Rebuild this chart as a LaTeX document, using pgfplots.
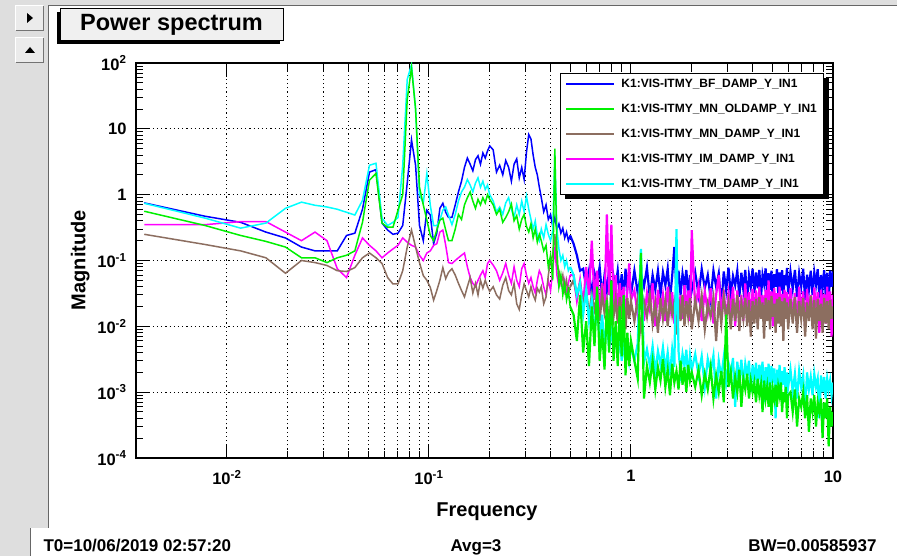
\documentclass[border=0pt]{standalone}
\usepackage{fontspec}
\setmainfont{Liberation Sans}
\usepackage{pgfplots}
\usepackage{pgfplotstable}
\pgfplotsset{compat=1.18}

\definecolor{rbrown}{RGB}{140,110,96}
\definecolor{rblue}{RGB}{0,0,255}
\definecolor{rgreen}{RGB}{0,240,0}
\definecolor{rmag}{RGB}{255,0,255}
\definecolor{rcyan}{RGB}{0,255,255}
\definecolor{panel}{RGB}{222,222,222}
\definecolor{titlefill}{RGB}{240,240,240}

% f = frequency [Hz]; b = BF, g = MN_OLDAMP, n = MN, m = IM, c = TM
\pgfplotstableread{
f      b     g      n      m      c
0.0039 0.75  0.56   0.25   0.35   0.74
0.0078 0.47  0.34   0.175  0.35   0.44
0.0117 0.38  0.24   0.14   0.39   0.31
0.0156 0.27  0.195  0.11   0.39   0.37
0.0195 0.22  0.16   0.064  0.27   0.62
0.0234 0.16  0.11   0.10   0.20   0.77
0.0273 0.14  0.11   0.093  0.27   0.69
0.0313 0.14  0.093  0.084  0.20   0.65
0.0352 0.14  0.11   0.07   0.075  0.60
0.0391 0.24  0.12   0.068  0.055  0.54
0.0430 0.26  0.14   0.078  0.12   0.49
0.0469 0.6   0.38   0.11   0.22   0.82
0.0508 2.2   1.66   0.13   0.17   2.8
0.0547 2.4   2.1    0.11   0.14   3.0
0.0586 0.37  0.37   0.09   0.11   0.44
0.0625 0.29  0.32   0.055  0.13   0.34
0.0664 0.25  0.32   0.044  0.15   0.38
0.0703 0.26  0.58   0.044  0.17   0.45
0.0742 0.34  1.0    0.07   0.22   2.8
0.0781 1.5   28     0.16   0.19   56
0.0820 6.8   85     0.29   0.17   95
0.0859 2.8   20     0.16   0.16   20
0.0898 0.34  1.3    0.093  0.12   1.0
0.0938 0.2   0.7    0.059  0.10   0.74
0.0977 0.58  0.41   0.05   0.13   2.1
0.1016 0.49  0.24   0.039  0.14   0.69
0.1055 0.18  0.2    0.025  0.17   0.34
0.1094 0.26  0.29   0.035  0.18   0.34
0.1133 0.62  0.41   0.05   0.27   0.41
0.1172 0.74  0.44   0.078  0.29   0.58
0.1211 0.54  0.29   0.053  0.17   0.65
0.1250 0.45  0.2    0.066  0.093  0.49
0.130  0.45  0.2    0.075  0.09   0.35
0.135  0.7   0.3    0.06   0.1    0.5
0.140  1.1   0.5    0.045  0.11   0.8
0.145  1.6   0.42   0.035  0.12   1.1
0.150  2.6   0.7    0.028  0.13   1.3
0.155  3.6   0.9    0.04   0.08   1.7
0.160  2.9   1.1    0.055  0.055  1.4
0.165  2.3   0.8    0.032  0.045  1.1
0.170  3.4   0.62   0.045  0.04   1.5
0.175  3.9   0.85   0.03   0.05   1.8
0.180  2.9   0.7    0.05   0.06   1.3
0.185  4.3   0.9    0.038  0.07   1.6
0.190  3.6   0.75   0.05   0.055  1.2
0.195  4.6   1.0    0.04   0.09   1.4
0.200  5.5   0.85   0.034  0.1    1.0
0.208  4.8   0.7    0.04   0.085  0.8
0.216  2.2   0.5    0.03   0.07   0.55
0.224  2.8   0.6    0.026  0.05   0.65
0.232  2.0   0.38   0.042  0.065  0.5
0.240  3.3   0.45   0.055  0.09   0.75
0.248  2.6   0.55   0.035  0.06   0.9
0.256  1.6   0.72   0.03   0.045  0.6
0.264  2.9   0.4    0.045  0.08   0.45
0.272  3.5   0.48   0.022  0.05   0.7
0.280  1.8   0.3    0.018  0.04   0.5
0.288  2.6   0.42   0.03   0.075  0.8
0.296  1.7   0.5    0.044  0.09   0.55
0.304  4.4   0.33   0.035  0.06   0.95
0.312  8.2   0.27   0.028  0.045  0.6
0.320  7.0   0.36   0.04   0.055  0.42
0.328  4.0   0.22   0.03   0.04   0.3
0.336  2.6   0.3    0.025  0.032  0.4
0.344  2.0   0.19   0.038  0.05   0.24
0.352  1.3   0.25   0.033  0.07   0.2
0.36   0.9   0.2    0.04   0.06   0.3
0.37   0.55  0.14   0.022  0.04   0.22
0.38   0.7   0.17   0.028  0.03   0.35
0.39   0.42  0.08   0.06   0.05   0.25
0.40   0.5   0.12   0.1    0.035  0.2
0.41   0.33  0.05   0.12   0.07   0.28
0.42   0.45  5.0    0.25   0.16   4.0
0.43   0.3   0.15   0.09   0.06   0.3
0.44   0.36  0.04   0.07   0.04   0.15
0.45   0.26  0.06   0.045  0.055  0.1
0.46   0.31  0.03   0.06   0.035  0.12
0.47   0.22  0.045  0.035  0.05   0.08
0.48   0.27  0.025  0.05   0.03   0.1
0.49   0.2   0.035  0.03   0.045  0.07
0.50   0.24  0.02   0.04   0.06   0.08
}\spec

% the dense, noise-like part above 0.5 Hz
\pgfplotstableread{
f      b     g      n      m      c
0.50   0.24  0.02   0.04   0.06   0.08
0.52   0.18  0.015  0.05   0.06   0.06
0.54   0.12  0.006  0.03   0.025  0.03
0.56   0.07  0.03   0.045  0.05   0.045
0.58   0.075 0.004  0.02   0.02   0.015
0.60   0.04  0.012  0.035  0.08   0.035
0.62   0.07  0.0025 0.015  0.03   0.012
0.64   0.03  0.02   0.03   0.2    0.025
0.66   0.065 0.005  0.018  0.025  0.008
0.68   0.045 0.04   0.028  0.07   0.02
0.70   0.08  0.003  0.012  0.018  0.006
0.72   0.028 0.009  0.032  0.045  0.015
0.74   0.06  0.0022 0.016  0.02   0.005
0.76   0.035 0.025  0.025  0.5    0.012
0.78   0.072 0.004  0.01   0.03   0.0045
0.80   0.022 0.05   0.03   0.35   0.01
0.82   0.058 0.003  0.014  0.02   0.004
0.84   0.04  0.012  0.026  0.06   0.008
0.86   0.07  0.0025 0.011  0.015  0.0035
0.88   0.03  0.02   0.028  0.045  0.007
0.90   0.062 0.0035 0.016  0.022  0.003
0.92   0.026 0.03   0.022  0.04   0.006
0.94   0.075 0.0018 0.009  0.012  0.0028
0.96   0.038 0.008  0.027  0.035  0.0055
0.98   0.066 0.0025 0.013  0.09   0.003
1.00   0.03  0.006  0.024  0.025  0.005
1.04   0.07  0.003  0.012  0.035  0.003
1.08   0.032 0.0016 0.026  0.015  0.0055
1.12   0.064 0.13   0.009  0.04   0.15
1.16   0.04  0.0008 0.024  0.012  0.0028
1.20   0.078 0.0025 0.014  0.032  0.0045
1.24   0.027 0.0014 0.03   0.018  0.0025
1.28   0.06  0.003  0.011  0.045  0.005
1.32   0.036 0.0011 0.022  0.01   0.002
1.36   0.07  0.0024 0.008  0.036  0.0042
1.40   0.03  0.0015 0.027  0.016  0.0026
1.44   0.066 0.0032 0.013  0.03   0.0048
1.48   0.042 0.0012 0.025  0.012  0.0022
1.52   0.075 0.0022 0.01   0.04   0.004
1.56   0.025 0.0009 0.028  0.017  0.0018
1.60   0.058 0.0027 0.015  0.033  0.0045
1.64   0.16  0.0014 0.023  0.011  0.0024
1.68   0.034 0.0021 0.0075 0.038  0.3
1.72   0.07  0.0011 0.026  0.015  0.0042
1.76   0.03  0.003  0.012  0.03   0.002
1.80   0.063 0.0013 0.03   0.013  0.0038
1.84   0.04  0.0024 0.01   0.042  0.0025
1.88   0.072 0.001  0.024  0.016  0.0044
1.92   0.028 0.0026 0.014  0.035  0.0016
1.96   0.06  0.0015 0.027  0.012  0.0036
2.00   0.035 0.002  0.009  0.29   0.0022
2.08   0.066 0.0012 0.025  0.018  0.0038
2.16   0.03  0.0022 0.012  0.04   0.0018
2.24   0.074 0.0009 0.029  0.012  0.0035
2.32   0.038 0.0019 0.009  0.034  0.0012
2.40   0.06  0.0011 0.022  0.016  0.0032
2.48   0.026 0.0024 0.014  0.038  0.002
2.56   0.07  0.0008 0.027  0.011  0.0036
2.64   0.04  0.0018 0.006  0.03   0.0008
2.72   0.064 0.001  0.024  0.06   0.003
2.80   0.02  0.0021 0.011  0.015  0.0017
2.88   0.068 0.0007 0.028  0.036  0.0034
2.96   0.035 0.015  0.013  0.012  0.0014
3.04   0.078 0.0012 0.023  0.032  0.0028
3.12   0.03  0.002  0.009  0.017  0.0019
3.20   0.058 0.0008 0.026  0.04   0.0033
3.28   0.042 0.0017 0.012  0.01   0.0006
3.36   0.07  0.001  0.03   0.035  0.0029
3.44   0.028 0.0022 0.0085 0.015  0.0015
3.52   0.065 0.0006 0.022  0.03   0.0031
3.60   0.036 0.0016 0.013  0.012  0.0013
3.68   0.072 0.0011 0.027  0.045  0.0027
3.76   0.024 0.0019 0.01   0.016  0.0018
3.84   0.06  0.0008 0.025  0.033  0.003
3.92   0.04  0.0015 0.007  0.011  0.001
4.00   0.075 0.001  0.024  0.037  0.0026
4.08   0.032 0.0014 0.011  0.014  0.0015
4.16   0.066 0.0007 0.026  0.035  0.0028
4.24   0.038 0.0016 0.009  0.011  0.0011
4.32   0.072 0.0009 0.028  0.04   0.0026
4.40   0.027 0.0013 0.013  0.016  0.0016
4.48   0.06  0.0005 0.023  0.03   0.0029
4.56   0.044 0.0015 0.0065 0.012  0.0007
4.64   0.076 0.0008 0.027  0.036  0.0024
4.72   0.03  0.0012 0.012  0.018  0.0013
4.80   0.064 0.0006 0.025  0.05   0.0027
4.88   0.036 0.0014 0.009  0.013  0.0009
4.96   0.07  0.00045 0.029 0.034  0.0025
5.04   0.022 0.0011 0.014  0.01   0.0014
5.12   0.062 0.0008 0.022  0.038  0.0023
5.20   0.04  0.0013 0.008  0.015  0.0004
5.28   0.074 0.0006 0.026  0.032  0.0022
5.36   0.03  0.0012 0.011  0.012  0.0012
5.44   0.066 0.0009 0.028  0.04   0.0026
5.52   0.035 0.0014 0.01   0.017  0.001
5.60   0.071 0.0005 0.024  0.031  0.0021
5.68   0.026 0.001  0.006  0.009  0.0013
5.76   0.06  0.0007 0.027  0.036  0.0024
5.84   0.042 0.0012 0.013  0.014  0.0008
5.92   0.077 0.0004 0.023  0.033  0.002
6.00   0.031 0.0009 0.009  0.012  0.0012
6.16   0.068 0.001  0.026  0.038  0.0022
6.32   0.037 0.0005 0.011  0.014  0.001
6.48   0.072 0.0011 0.028  0.032  0.0019
6.64   0.028 0.0003 0.008  0.011  0.0008
6.80   0.064 0.0008 0.024  0.04   0.0021
6.96   0.04  0.0006 0.013  0.016  0.0012
7.12   0.075 0.001  0.027  0.034  0.0018
7.28   0.025 0.0004 0.007  0.01   0.0005
7.44   0.061 0.0009 0.023  0.037  0.002
7.60   0.036 0.00025 0.012 0.015  0.0011
7.76   0.07  0.0008 0.029  0.03   0.0017
7.92   0.03  0.0005 0.009  0.012  0.0009
8.08   0.066 0.0009 0.025  0.039  0.0019
8.24   0.043 0.0003 0.0065 0.016  0.0012
8.40   0.074 0.0007 0.026  0.033  0.0016
8.56   0.027 0.0005 0.012  0.008  0.0004
8.72   0.06  0.0008 0.022  0.036  0.0018
8.88   0.038 0.0002 0.008  0.014  0.001
9.04   0.071 0.0007 0.027  0.031  0.0017
9.20   0.03  0.0004 0.011  0.011  0.0008
9.36   0.065 0.0008 0.024  0.04   0.0016
9.52   0.022 0.00015 0.009 0.013  0.0011
9.68   0.07  0.0006 0.025  0.034  0.0015
9.84   0.04  0.0003 0.013  0.007  0.0009
10.00  0.068 0.0005 0.02   0.03   0.0014
}\noise

\begin{document}
\begin{tikzpicture}
% window background
\fill[white] (0pt,0pt) rectangle (897pt,556pt);
\fill[panel] (0pt,28pt) rectangle (48pt,556pt);
\fill[panel] (0pt,0pt) rectangle (30pt,28pt);
\fill[panel] (0pt,551pt) rectangle (897pt,556pt);
\draw[black!60,line width=1.5pt] (48.5pt,28pt) -- (48.5pt,550.5pt) -- (897pt,550.5pt);
\draw[black!60,line width=1pt] (30.5pt,0pt) -- (30.5pt,28pt);
% buttons
\foreach \yt in {551,519} {
  \fill[black!8] (15pt,\yt pt-26pt) rectangle (44pt,\yt pt);
  \draw[white,line width=1.2pt] (15.6pt,\yt pt-25.4pt) -- (15.6pt,\yt pt-0.6pt) -- (43.4pt,\yt pt-0.6pt);
  \draw[black!55,line width=1.2pt] (15.6pt,\yt pt-25.4pt) -- (43.4pt,\yt pt-25.4pt) -- (43.4pt,\yt pt-0.6pt);
}
\fill[black] (27pt,543pt) -- (27pt,533pt) -- (33pt,538pt) -- cycle;
\fill[black] (25pt,503pt) -- (35pt,503pt) -- (30pt,509pt) -- cycle;
% title box
\fill[black] (57pt,512pt) rectangle (280pt,544pt);
\filldraw[fill=titlefill,draw=black,line width=1pt] (60pt,515pt) rectangle (283pt,547pt);
\node[font=\bfseries\fontsize{23.5}{24}\selectfont] at (171.5pt,531pt) {Power spectrum};

\begin{axis}[
  at={(136pt,98pt)}, anchor=south west,
  scale only axis, width=697pt, height=395pt,
  xmode=log, ymode=log,
  xmin=0.00355, xmax=10, ymin=1e-4, ymax=100,
  axis line style={line width=1.5pt},
  tick style={black, line width=1pt},
  major tick length=14pt, minor tick length=7pt,
  tick pos=both, tick align=inside,
  xmajorgrids, xminorgrids, ymajorgrids,
  grid style={black, line width=1pt, dash pattern=on 1.2pt off 3pt},
  xtick={0.01,0.1,1,10},
  xticklabels={10\textsuperscript{-2},10\textsuperscript{-1},1,10},
  ytick={1e-4,1e-3,1e-2,0.1,1,10,100},
  yticklabels={10\textsuperscript{-4},10\textsuperscript{-3},10\textsuperscript{-2},10\textsuperscript{-1},1,10,10\textsuperscript{2}},
  tick label style={font=\bfseries\fontsize{16.5}{17}\selectfont},
  xticklabel style={anchor=north, yshift=-9pt},
  yticklabel style={anchor=east, xshift=-6pt},
  xlabel={Frequency}, ylabel={Magnitude},
  label style={font=\bfseries\fontsize{20}{20}\selectfont},
  xlabel style={at={(axis description cs:0.5036,-0.137)}, anchor=center},
  ylabel style={at={(axis description cs:-0.080,0.501)}, anchor=center},
  legend image code/.code={\draw[#1,line width=2pt] (0pt,0pt) -- (48pt,0pt);},
  legend cell align=left,
  legend style={name=legbox, at={(0.6083,0.9747)}, anchor=north west,
    draw=black, line width=1pt, fill=white,
    font=\bfseries\fontsize{12}{12}\selectfont,
    inner xsep=5pt, inner ysep=4pt, row sep=11pt,
    /tikz/every odd column/.append style={column sep=4pt}},
]
\addlegendimage{rblue}
\addlegendentry{K1:VIS-ITMY\_BF\_DAMP\_Y\_IN1}
\addlegendimage{rgreen}
\addlegendentry{K1:VIS-ITMY\_MN\_OLDAMP\_Y\_IN1}
\addlegendimage{rbrown}
\addlegendentry{K1:VIS-ITMY\_MN\_DAMP\_Y\_IN1}
\addlegendimage{rmag}
\addlegendentry{K1:VIS-ITMY\_IM\_DAMP\_Y\_IN1}
\addlegendimage{rcyan}
\addlegendentry{K1:VIS-ITMY\_TM\_DAMP\_Y\_IN1}

\addplot[rblue, line width=1.5pt, forget plot] table[x=f, y=b] {\spec};
\addplot[rblue, line width=2.2pt, forget plot] table[x=f, y=b] {\noise};
\addplot[rmag, line width=1.5pt, forget plot] table[x=f, y=m] {\spec};
\addplot[rmag, line width=2.2pt, forget plot] table[x=f, y=m] {\noise};
\addplot[rbrown, line width=1.5pt, forget plot] table[x=f, y=n] {\spec};
\addplot[rbrown, line width=2.2pt, forget plot] table[x=f, y=n] {\noise};
\addplot[rcyan, line width=1.5pt, forget plot] table[x=f, y=c] {\spec};
\addplot[rcyan, line width=2.2pt, forget plot] table[x=f, y=c] {\noise};
\addplot[rgreen, line width=1.5pt, forget plot] table[x=f, y=g] {\spec};
\addplot[rgreen, line width=2.2pt, forget plot] table[x=f, y=g] {\noise};
\end{axis}

% legend shadow (outside the legend box only)
\fill[black] ([xshift=5pt,yshift=-4pt]legbox.south west) rectangle ([xshift=5pt]legbox.south east);
\fill[black] ([yshift=-4pt]legbox.south east) rectangle ([xshift=5pt,yshift=-5pt]legbox.north east);

% status line
\node[anchor=base west, font=\bfseries\fontsize{17}{17}\selectfont] at (40pt,4pt) {T0=10/06/2019 02:57:20};
\node[anchor=base, font=\bfseries\fontsize{17}{17}\selectfont] at (476pt,4pt) {Avg=3};
\node[anchor=base east, font=\bfseries\fontsize{17}{17}\selectfont] at (880pt,4pt) {BW=0.00585937};

\pgfresetboundingbox
\path[use as bounding box] (0pt,0pt) rectangle (897pt,556pt);
\end{tikzpicture}
\end{document}
